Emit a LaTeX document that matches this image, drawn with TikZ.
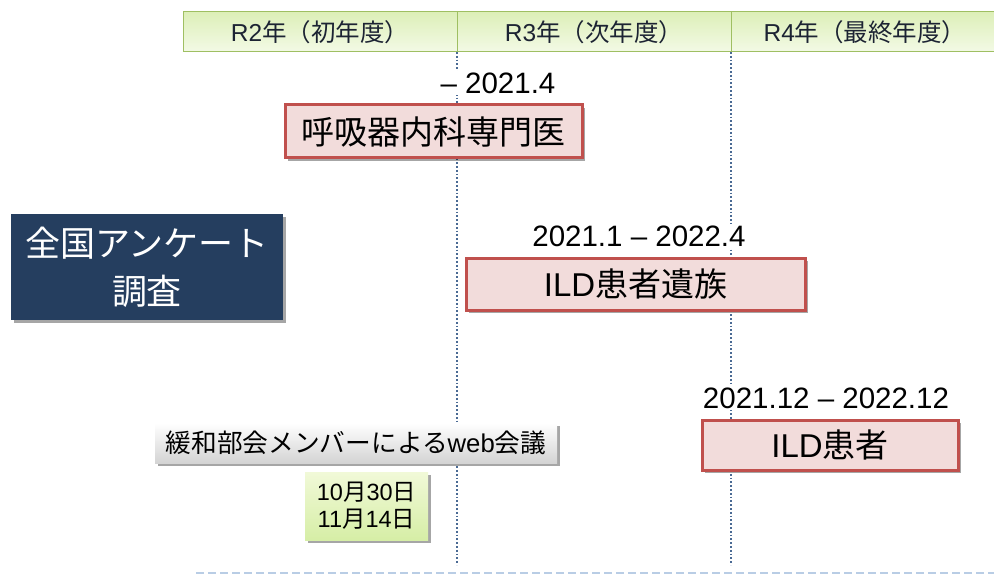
\documentclass[tikz,border=0pt]{standalone}
\usepackage{fontspec}
\setmainfont{Liberation Sans}
\newfontfamily\jp{Noto Sans CJK JP}
\usetikzlibrary{shadows}
\definecolor{hdrline}{HTML}{9FBF62}
\definecolor{hdrtop}{HTML}{DDEFB8}
\definecolor{hdrbot}{HTML}{F3FAE6}
\definecolor{pinkfill}{HTML}{F2DCDB}
\definecolor{redline}{HTML}{C0504D}
\definecolor{navy}{HTML}{253E5F}
\definecolor{dotblue}{HTML}{4A6A94}
\definecolor{dashblue}{HTML}{B9CDE5}
\definecolor{greentop}{HTML}{F1F9D8}
\definecolor{greenbot}{HTML}{D6EEA6}
\definecolor{hdrtext}{HTML}{1C2333}
\begin{document}
\begin{tikzpicture}[x=1pt,y=-1pt,
  hdrcell/.style={draw=hdrline,line width=1pt,top color=hdrtop,bottom color=hdrbot,
    minimum height=40pt,inner sep=0pt,text=hdrtext,font=\fontsize{24.5}{28}\selectfont},
  period/.style={draw=redline,line width=3pt,fill=pinkfill,inner sep=0pt,
    font=\fontsize{33}{38}\selectfont,
    drop shadow={shadow xshift=3pt,shadow yshift=-3pt,opacity=0.35,fill=black}},
  datelbl/.style={fill=white,inner sep=2pt,font=\fontsize{29.5}{33}\selectfont},
  timeline/.style={draw=dotblue,line width=1.8pt,dotted},
  shadowed/.style={drop shadow={shadow xshift=3pt,shadow yshift=-3pt,opacity=0.35,fill=black}}]
\useasboundingbox (0,0) rectangle (994,575);
% header
\node[hdrcell,minimum width=274pt] (h1) at (320,32) {R2{\jp 年（初年度）}};
\node[hdrcell,minimum width=274pt] (h2) at (594,32) {R3{\jp 年（次年度）}};
\node[hdrcell,minimum width=268pt,text width=268pt,align=center] (h3) at (865,32) {R4{\jp 年（最終年度）}};
% timelines
\coordinate (t1) at (457,52);
\coordinate (b1) at (457,565);
\coordinate (t2) at (731,52);
\coordinate (b2) at (731,565);
\draw[timeline] (t1) -- (b1);
\draw[timeline] (t2) -- (b2);
% bottom dashed
\coordinate (d1) at (196,573);
\coordinate (d2) at (994,573);
\draw[draw=dashblue,line width=2.5pt,dash pattern=on 8pt off 4pt] (d1) -- (d2);
% date labels
\node[datelbl] (l1) at (498,83) {– 2021.4};
\node[datelbl] (l2) at (639,236) {2021.1 – 2022.4};
\node[datelbl] (l3) at (826,398) {2021.12 – 2022.12};
% period boxes
\node[period,minimum width=297pt,minimum height=53pt] (p1) at (433.5,131.5) {\jp 呼吸器内科専門医};
\node[period,minimum width=339pt,minimum height=52pt] (p2) at (635.5,284) {ILD{\jp 患者遺族}};
\node[period,minimum width=256pt,minimum height=50pt] (p3) at (830,445) {ILD{\jp 患者}};
% survey title
\node[fill=navy,text=white,minimum width=272pt,minimum height=106pt,inner sep=0pt,
  align=center,font=\fontsize{35}{48}\selectfont\jp,shadowed] (s) at (147,267) {全国アンケート\\調査};
% web meeting
\node[top color=white,bottom color=black!17,minimum width=402pt,minimum height=40pt,inner sep=0pt,
  font=\fontsize{25.7}{30}\selectfont,shadowed] (w) at (356,443) {{\jp 緩和部会メンバーによる}web{\jp 会議}};
\node[top color=greentop,bottom color=greenbot,minimum width=123pt,minimum height=68pt,inner sep=0pt,
  align=center,font=\fontsize{23.5}{27}\selectfont,shadowed] (d) at (366.5,506) {10{\jp 月}30{\jp 日}\\11{\jp 月}14{\jp 日}};
\end{tikzpicture}
\end{document}
